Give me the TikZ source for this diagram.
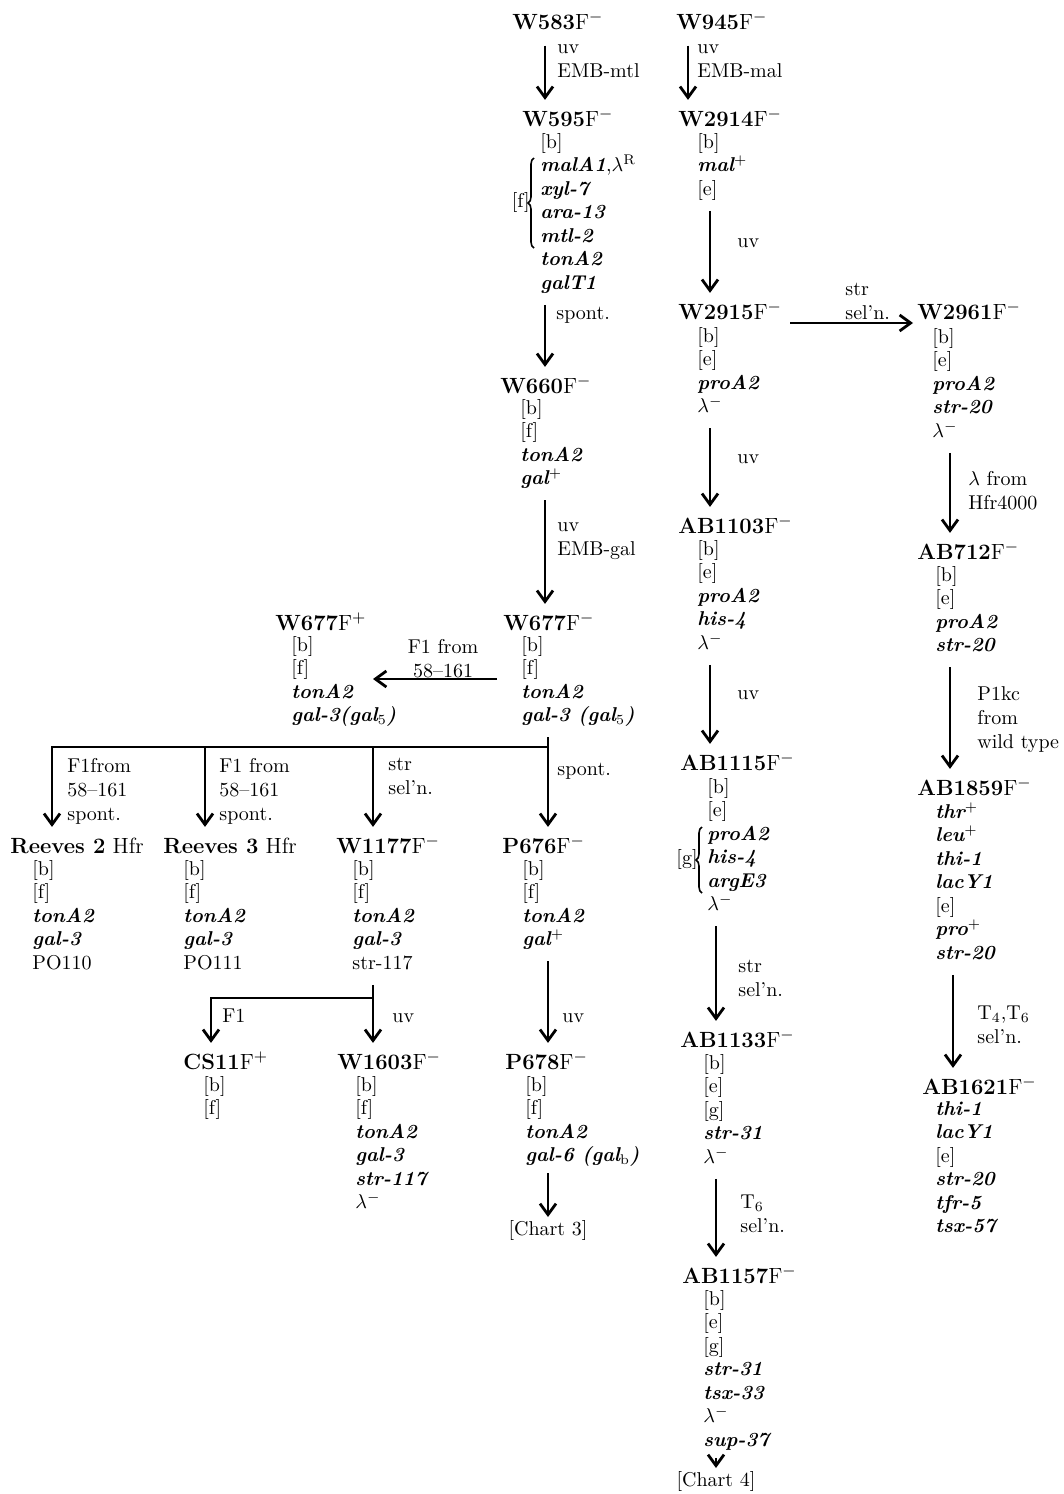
\documentclass[tikz,border=0pt]{standalone}
\usetikzlibrary{arrows.meta,decorations.pathreplacing}
\newcommand{\gn}[1]{{\bfseries\itshape #1}}
\newcommand{\sname}[2]{{\bfseries #1}#2}
\begin{document}
\begin{tikzpicture}[x=0.5pt,y=-0.5pt,
  strain/.style={anchor=base west,inner sep=0pt,font=\fontsize{11}{13}\selectfont,
    execute at begin node=\strut},
  geno/.style={anchor=north west,inner sep=0pt,align=left,font=\fontsize{10}{11.75}\selectfont,
    execute at begin node=\strut,execute at end node=\strut},
  note/.style={anchor=north west,inner sep=0pt,align=left,font=\fontsize{10}{12}\selectfont,
    execute at begin node=\strut,execute at end node=\strut},
  arr/.style={line width=1.4pt,line join=miter,shorten <=4pt,shorten >=4pt,
    -{Straight Barb[length=5.5pt,width=8pt]}},
  grp/.style={decorate,decoration={brace,amplitude=3pt},line width=0.8pt}]
\useasboundingbox (0,0) rectangle (1064,1494);

% ---- strains ----
\node[strain] (w583)  at (512,29.5)  {\sname{W583}{F$^{-}$}};
\node[strain] (w945)  at (676,29.5)  {\sname{W945}{F$^{-}$}};
\node[strain] (w595)  at (522,126.5) {\sname{W595}{F$^{-}$}};
\node[strain] (w2914) at (678,126.5) {\sname{W2914}{F$^{-}$}};
\node[strain] (w2915) at (678,319.5) {\sname{W2915}{F$^{-}$}};
\node[strain] (w2961) at (917,319.5) {\sname{W2961}{F$^{-}$}};
\node[strain] (w660)  at (500,393.5) {\sname{W660}{F$^{-}$}};
\node[strain] (ab1103) at (678,533.5) {\sname{AB1103}{F$^{-}$}};
\node[strain] (ab712) at (917,559.5) {\sname{AB712}{F$^{-}$}};
\node[strain] (w677m) at (503,630.5) {\sname{W677}{F$^{-}$}};
\node[strain] (w677p) at (275,630.5) {\sname{W677}{F$^{+}$}};
\node[strain] (ab1115) at (680,770.5) {\sname{AB1115}{F$^{-}$}};
\node[strain] (ab1859) at (917,795.5) {\sname{AB1859}{F$^{-}$}};
\node[strain] (reeves2) at (10,853.5) {\sname{Reeves 2}{ Hfr}};
\node[strain] (reeves3) at (163,853.5) {\sname{Reeves 3}{ Hfr}};
\node[strain] (w1177) at (336,853.5) {\sname{W1177}{F$^{-}$}};
\node[strain] (p676)  at (502,853.5) {\sname{P676}{F$^{-}$}};
\node[strain] (ab1133) at (680,1047.5) {\sname{AB1133}{F$^{-}$}};
\node[strain] (cs11)  at (183,1069.5) {\sname{CS11}{F$^{+}$}};
\node[strain] (w1603) at (337,1069.5) {\sname{W1603}{F$^{-}$}};
\node[strain] (p678)  at (505,1069.5) {\sname{P678}{F$^{-}$}};
\node[strain] (ab1621) at (922,1094.5) {\sname{AB1621}{F$^{-}$}};
\node[strain] (ab1157) at (682,1283.5) {\sname{AB1157}{F$^{-}$}};

% ---- genotypes ----
\node[geno] (w595g) at (540,133) {[b]\\\gn{malA1},$\lambda^{\mathrm{R}}$\\\gn{xyl-7}\\\gn{ara-13}\\\gn{mtl-2}\\\gn{tonA2}\\\gn{galT1}};
\node[geno] (w2914g) at (697,133) {[b]\\\gn{mal}$^{+}$\\{[e]}};
\node[geno] (w2915g) at (697,327) {[b]\\{[e]}\\\gn{proA2}\\$\lambda^{-}$};
\node[geno] (w2961g) at (932,328) {[b]\\{[e]}\\\gn{proA2}\\\gn{str-20}\\$\lambda^{-}$};
\node[geno] (w660g) at (520,399) {[b]\\{[f]}\\\gn{tonA2}\\\gn{gal}$^{+}$};
\node[geno] (ab1103g) at (697,540) {[b]\\{[e]}\\\gn{proA2}\\\gn{his-4}\\$\lambda^{-}$};
\node[geno] (ab712g) at (935,566) {[b]\\{[e]}\\\gn{proA2}\\\gn{str-20}};
\node[geno] (w677mg) at (521,636) {[b]\\{[f]}\\\gn{tonA2}\\\gn{gal-3 (gal$_5$)}};
\node[geno] (w677pg) at (291,636) {[b]\\{[f]}\\\gn{tonA2}\\\gn{gal-3(gal$_5$)}};
\node[geno] (ab1115g) at (707,778) {[b]\\{[e]}\\\gn{proA2}\\\gn{his-4}\\\gn{argE3}\\$\lambda^{-}$};
\node[geno] (ab1859g) at (935,802) {\gn{thr}$^{+}$\\\gn{leu}$^{+}$\\\gn{thi-1}\\\gn{lacY1}\\{[e]}\\\gn{pro}$^{+}$\\\gn{str-20}};
\node[geno] (reeves2g) at (32,860) {[b]\\{[f]}\\\gn{tonA2}\\\gn{gal-3}\\PO110};
\node[geno] (reeves3g) at (183,860) {[b]\\{[f]}\\\gn{tonA2}\\\gn{gal-3}\\PO111};
\node[geno] (w1177g) at (352,860) {[b]\\{[f]}\\\gn{tonA2}\\\gn{gal-3}\\str-117};
\node[geno] (p676g) at (522,860) {[b]\\{[f]}\\\gn{tonA2}\\\gn{gal}$^{+}$};
\node[geno] (ab1133g) at (703,1054) {[b]\\{[e]}\\{[g]}\\\gn{str-31}\\$\lambda^{-}$};
\node[geno] (cs11g) at (203,1076) {[b]\\{[f]}};
\node[geno] (w1603g) at (355,1076) {[b]\\{[f]}\\\gn{tonA2}\\\gn{gal-3}\\\gn{str-117}\\$\lambda^{-}$};
\node[geno] (p678g) at (525,1076) {[b]\\{[f]}\\\gn{tonA2}\\\gn{gal-6 (gal}$_{\mathrm{b}}$\gn{)}};
\node[geno] (ab1621g) at (935,1101) {\gn{thi-1}\\\gn{lacY1}\\{[e]}\\\gn{str-20}\\\gn{tfr-5}\\\gn{tsx-57}};
\node[geno] (ab1157g) at (703,1290) {[b]\\{[e]}\\{[g]}\\\gn{str-31}\\\gn{tsx-33}\\$\lambda^{-}$\\\gn{sup-37}};

% braced groups of linked markers
\draw[grp] (534,248) -- (534,158);
\node[geno,anchor=east] (fgrp) at (530,203) {[f]};
\draw[grp] (702,893) -- (702,827);
\node[geno,anchor=east] (ggrp) at (698,860) {[g]};

% continuation charts
\node[geno,anchor=north] (chart3) at (548,1219) {[Chart 3]};
\node[geno,anchor=north] (chart4) at (716,1470) {[Chart 4]};

% ---- derivation labels ----
\node[note] at (557,44) {uv\\EMB-mtl};
\node[note] at (697,44) {uv\\EMB-mal};
\node[note] at (737,230) {uv};
\node[note] at (556,302) {spont.};
\node[note] at (845,283) {str\\sel'n.};
\node[note] at (737,446) {uv};
\node[note] at (968,471) {$\lambda$ from\\Hfr4000};
\node[note] at (557,522) {uv\\EMB-gal};
\node[note,align=center,anchor=north] at (443,639) {F1 from\\58--161};
\node[note] at (737,682) {uv};
\node[note] at (977,686) {P1kc\\from\\wild type};
\node[note] at (67,758) {F1from\\58--161\\spont.};
\node[note] at (219,758) {F1 from\\58--161\\spont.};
\node[note] at (388,758) {str\\sel'n.};
\node[note] at (557,758) {spont.};
\node[note] at (738,960) {str\\sel'n.};
\node[note] at (977,1006) {T$_4$,T$_6$\\sel'n.};
\node[note] at (222,1005) {F1};
\node[note] at (392,1005) {uv};
\node[note] at (562,1005) {uv};
\node[note] at (740,1195) {T$_6$\\sel'n.};

% ---- junction points ----
\coordinate (tipA) at (373,679);
\coordinate (jn) at (548,747);
\coordinate (j1) at (52,747);
\coordinate (j2) at (205,747);
\coordinate (j3) at (373,747);
\coordinate (jk) at (373,998);
\coordinate (jc) at (211,998);

% ---- derivations ----
\draw[arr] (w583.south -| 545,0) -- (w595.north -| 545,0);
\draw[arr] (w945.south -| 688,0) -- (w2914.north -| 688,0);
\draw[arr] (w2914g.south -| 710,0) -- (w2915.north -| 710,0);
\draw[arr] (w595g.south -| 545,0) -- (w660.north -| 545,0);
\draw[arr,shorten >=2pt] (w2915.east |- 0,323) -- (w2961.west |- 0,323);
\draw[arr] (w2915g.south -| 710,0) -- (ab1103.north -| 710,0);
\draw[arr] (w2961g.south -| 950,0) -- (ab712.north -| 950,0);
\draw[arr] (w660g.south -| 545,0) -- (w677m.north -| 545,0);
\draw[arr,shorten <=12pt,shorten >=0pt] (w677mg.west |- tipA) -- (tipA);
\draw[arr] (ab1103g.south -| 710,0) -- (ab1115.north -| 710,0);
\draw[arr] (ab712g.south -| 950,0) -- (ab1859.north -| 950,0);
\draw[arr] (w677mg.south -| jn) -- (p676.north -| jn);
\draw[arr,shorten <=0pt] (jn) -- (j1) -- (reeves2.north -| j1);
\draw[arr,shorten <=0pt] (j2) -- (reeves3.north -| j2);
\draw[arr,shorten <=0pt] (j3) -- (w1177.north -| j3);
\draw[arr] (ab1115g.south -| 716,0) -- (ab1133.north -| 716,0);
\draw[arr] (ab1859g.south -| 953,0) -- (ab1621.north -| 953,0);
\draw[arr] (w1177g.south -| jk) -- (w1603.north -| jk);
\draw[arr,shorten <=0pt] (jk) -- (jc) -- (cs11.north -| jc);
\draw[arr] (p676g.south -| 548,0) -- (p678.north -| 548,0);
\draw[arr,shorten <=2pt,shorten >=1pt] (p678g.south -| 548,0) -- (chart3.north -| 548,0);
\draw[arr] (ab1133g.south -| 716,0) -- (ab1157.north -| 716,0);
\draw[arr,shorten <=2pt,shorten >=1pt] (ab1157g.south -| 716,0) -- (chart4.north -| 716,0);
\end{tikzpicture}
\end{document}
